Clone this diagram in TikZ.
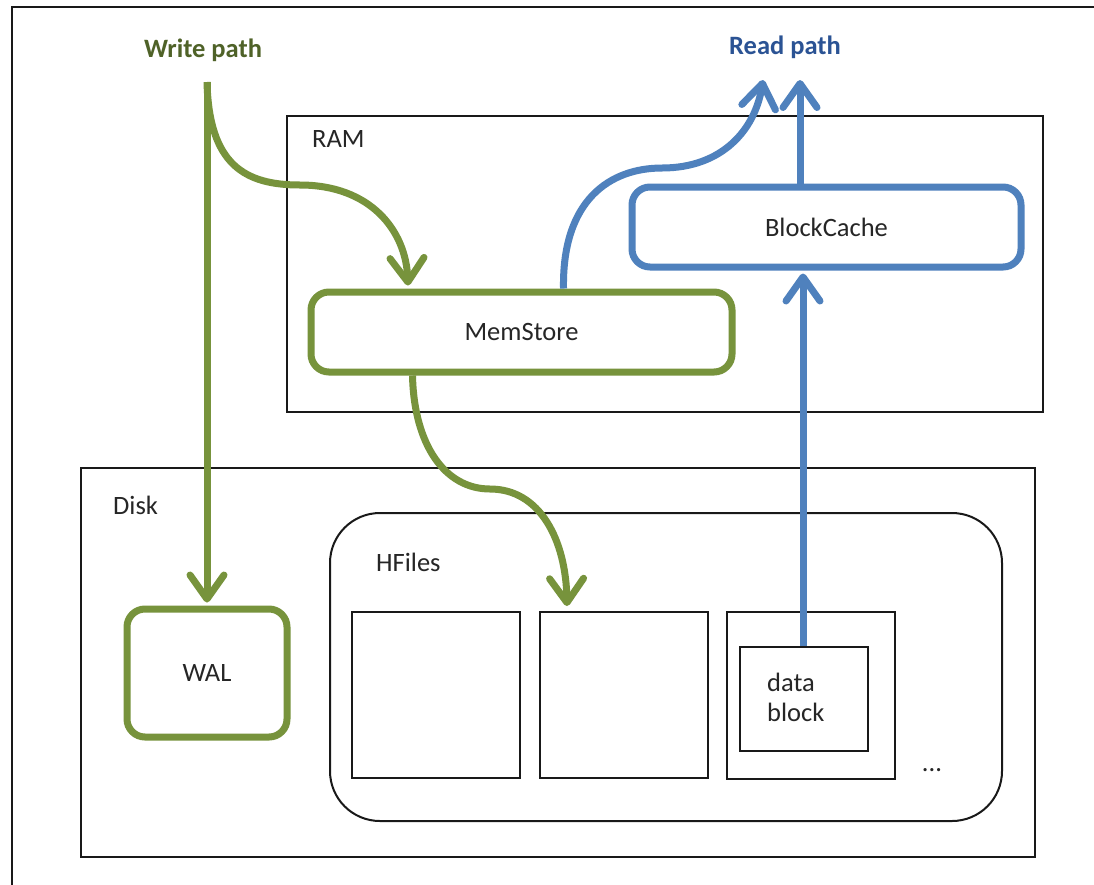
\documentclass[tikz,border=0pt]{standalone}
\usepackage{fontspec}
\setmainfont{Carlito}
\usetikzlibrary{arrows.meta,calc}
\definecolor{gline}{HTML}{77933C}
\definecolor{gtext}{HTML}{4F6228}
\definecolor{bline}{HTML}{4F81BD}
\definecolor{btext}{HTML}{2B5394}
\begin{document}
\begin{tikzpicture}[x=1pt,y=-1pt,
  lbl/.style={font=\fontsize{26.5}{30}\selectfont, inner sep=0pt, text=black!85},
  title/.style={font=\fontsize{26.5}{30}\selectfont\bfseries, inner sep=0pt},
  blackbox/.style={draw=black!90, line width=2pt, inner sep=0pt},
  gbox/.style={draw=gline, line width=7pt, rounded corners=18pt, inner sep=0pt, font=\fontsize{26.5}{30}\selectfont, text=black!85},
  bbox/.style={draw=bline, line width=7pt, rounded corners=18pt, inner sep=0pt, font=\fontsize{26.5}{30}\selectfont, text=black!85},
  garrow/.style={draw=gline, line width=7pt, -{Straight Barb[length=24pt,width=34pt,line cap=round,line join=round]}},
  barrow/.style={draw=bline, line width=7pt, -{Straight Barb[length=24pt,width=34pt,line cap=round,line join=round]}},
]
\useasboundingbox (0,0) rectangle (1094,884);
\fill[white] (0,0) rectangle (1094,884);
\draw[line width=2.5pt, black!90] (12,890) -- (12,7) -- (1100,7);

% containers
\node[blackbox, minimum width=756pt, minimum height=296pt] (ram) at (665,264) {};
\node[blackbox, minimum width=954pt, minimum height=389pt] (disk) at (558,662.5) {};
\node[blackbox, rounded corners=50pt, minimum width=672pt, minimum height=308pt] (hfiles) at (666,667) {};
\node[blackbox, minimum width=168pt, minimum height=166pt] (f1) at (436,695) {};
\node[blackbox, minimum width=168pt, minimum height=166pt] (f2) at (624,695) {};
\node[blackbox, minimum width=168pt, minimum height=167pt] (f3) at (811,695.5) {};
\node[blackbox, minimum width=128pt, minimum height=104pt] (db) at (804,699) {};

% labels
\node[title, text=gtext] (wlabel) at (203,50) {Write path};
\node[title, text=btext] (rlabel) at (785,47) {Read path};
\node[lbl, anchor=west] (ramlbl) at (312,139) {RAM};
\node[lbl, anchor=west] (disklbl) at (113,505) {Disk};
\node[lbl, anchor=west] (hflbl) at (376,562) {HFiles};
\node[lbl, anchor=west, align=left] (dblbl) at (767,697) {data\\block};
\node[lbl] (dots) at (932,770) {...};

% coloured boxes
\node[gbox, minimum width=160pt, minimum height=128pt] (wal) at (207,673) {WAL};
\node[gbox, minimum width=421pt, minimum height=80pt] (mem) at (521.5,332) {MemStore};
\node[bbox, minimum width=389pt, minimum height=80pt] (bc) at (826.5,227) {BlockCache};

% coordinates
\coordinate (ws) at (207,82);
\coordinate (rt1) at (763,80);
\coordinate (rt2) at (800,80);

% write path
\draw[garrow] (ws) -- ([yshift=3pt]wal.north);
\draw[garrow] (ws) .. controls (209,165) and (245,185) .. (300,185)
  .. controls (370,185) and (406,230) .. ([xshift=-113.5pt,yshift=3pt]mem.north);
\draw[garrow] ([xshift=-109pt]mem.south) .. controls (414,445) and (445,489) .. (490,489)
  .. controls (540,489) and (566,540) .. ([xshift=-57pt,yshift=5pt]f2.north);

% read path
\draw[barrow] ([xshift=42pt]mem.north) .. controls (562,200) and (610,168) .. (662,168)
  .. controls (722,168) and (755,130) .. (rt1);
\draw[barrow] ([xshift=-26.5pt]bc.north) -- (rt2);
\draw[barrow] ([xshift=-1pt]db.north) -- ([xshift=-23.5pt,yshift=-3pt]bc.south);
\end{tikzpicture}
\end{document}
